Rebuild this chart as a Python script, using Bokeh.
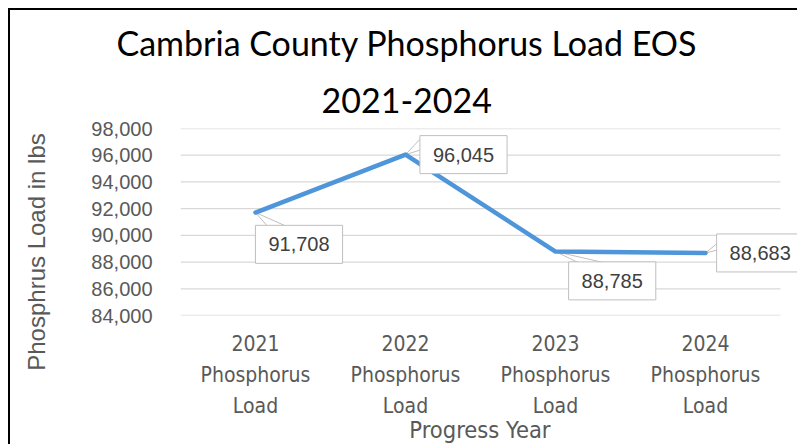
import math
from bokeh.plotting import figure
from bokeh.models import FixedTicker, NumeralTickFormatter, Label, Range1d, Title
from bokeh.embed import file_html
from bokeh.resources import INLINE

# ---- data ----
categories = ["2021\nPhosphorus\nLoad", "2022\nPhosphorus\nLoad",
              "2023\nPhosphorus\nLoad", "2024\nPhosphorus\nLoad"]
phosphorus_load = [91708, 96045, 88785, 88683]
y_ticks = [84000, 86000, 88000, 90000, 92000, 94000, 96000, 98000]
title_lines = ["Cambria County Phosphorus Load EOS", "2021-2024"]
y_label = "Phosphrus Load in lbs"
x_label = "Progress Year"

# ---- layout / style ----
W, H = 789, 436
FRAME_L, FRAME_T, FRAME_B = 170, 118, 305
BAND_PX = 150          # width of one category band
LINE_COLOR = "#4E95D9"
GRID_COLOR = "#D9D9D9"
AXIS_TEXT = "#595959"
LABEL_TEXT = "#404040"
BOX_LINE = "#BFBFBF"
NARROW = "DejaVu Sans Condensed"
NBSP = "\u00a0"

x_pos = list(range(len(categories)))
x_start = -0.5
x_band_end = len(categories) - 0.5
x_end = x_start + (W - FRAME_L) / BAND_PX

p = figure(width=W, height=H, output_backend="svg", toolbar_location=None,
           x_range=Range1d(x_start, x_end),
           y_range=Range1d(y_ticks[0], y_ticks[-1]),
           min_border_left=FRAME_L, min_border_right=0,
           min_border_top=FRAME_T, min_border_bottom=H - FRAME_B)
p.styles = {"margin-left": "8px", "margin-top": "8px",
            "border-left": "2px solid black", "border-top": "2px solid black"}
p.outline_line_color = None
p.background_fill_color = "white"
p.border_fill_color = "white"

# title: two lines, each centred on the whole chart area (offset from frame left)
title_offsets = [-64, 141]
title_standoffs = [15, 31]
p.title = None
for t, off, so in reversed(list(zip(title_lines, title_offsets, title_standoffs))):
    p.add_layout(Title(text=t, align="left", offset=off,
                       text_font="Lato", text_font_size="34px", text_color="black",
                       text_font_style="normal", standoff=so), "above")

# axes
p.yaxis.ticker = FixedTicker(ticks=y_ticks)
p.yaxis.formatter = NumeralTickFormatter(format="0,0")
p.xaxis.ticker = FixedTicker(ticks=x_pos)
p.xaxis.major_label_overrides = {i: c for i, c in zip(x_pos, categories)}
for ax in (p.xaxis[0], p.yaxis[0]):
    ax.axis_line_color = None
    ax.major_tick_line_color = None
    ax.minor_tick_line_color = None
    ax.major_label_text_color = AXIS_TEXT
    ax.axis_label_text_color = AXIS_TEXT
    ax.axis_label_text_font_style = "normal"

p.yaxis.major_label_text_font = "Liberation Sans"
p.yaxis.major_label_text_font_size = "20px"
p.yaxis.major_label_standoff = 22
p.yaxis.axis_label = y_label + NBSP * 9
p.yaxis.axis_label_text_font = "Liberation Sans"
p.yaxis.axis_label_text_font_size = "24px"
p.yaxis.axis_label_standoff = 38

p.xaxis.major_label_text_font = NARROW
p.xaxis.major_label_text_font_size = "21px"
p.xaxis.major_label_text_line_height = 1.3
p.xaxis.major_label_standoff = 10
p.xaxis.axis_label = x_label + NBSP * 3
p.xaxis.axis_label_text_font = NARROW
p.xaxis.axis_label_text_font_size = "23.5px"
p.xaxis.axis_label_standoff = -5

# horizontal gridlines across the category bands only
p.xgrid.grid_line_color = None
p.ygrid.grid_line_color = None
p.segment(x0=[x_start] * len(y_ticks), y0=y_ticks,
          x1=[x_band_end] * len(y_ticks), y1=y_ticks,
          line_color=GRID_COLOR, line_width=1.3)

# callout pointers (offsets in screen px converted to data units)
dx_per_px = 1.0 / BAND_PX
dy_per_px = (y_ticks[-1] - y_ticks[0]) / (FRAME_B - FRAME_T)
pointer_px = [((14, 16), (36, 16)), ((16, -17), (16, -5)),
              ((27, 13), (57, 13)), ((16, -13), (16, -4))]
pxs, pys = [], []
for xi, v, (a, b) in zip(x_pos, phosphorus_load, pointer_px):
    pxs.append([xi, xi + a[0] * dx_per_px, xi + b[0] * dx_per_px])
    pys.append([v, v - a[1] * dy_per_px, v - b[1] * dy_per_px])
p.patches(pxs, pys, fill_color="white", line_color=BOX_LINE, line_width=1)

# the series line
p.line(x_pos, phosphorus_load, line_width=4.5, color=LINE_COLOR,
       line_join="round", line_cap="round")

# data labels (boxes)
label_offsets = [(43.5, -31.8), (58, 0), (56.7, -29.3), (54.7, 0)]
for xi, v, (xo, yo) in zip(x_pos, phosphorus_load, label_offsets):
    p.add_layout(Label(x=xi, y=v, x_offset=xo, y_offset=yo, text=f"{v:,}",
                       text_align="center", text_baseline="middle",
                       text_font="Liberation Sans", text_font_size="20px",
                       text_color=LABEL_TEXT, background_fill_color="white",
                       border_line_color=BOX_LINE, border_line_width=1,
                       padding=dict(left=13, right=13, top=12, bottom=12)))

open("out.html", "w").write(file_html(p, INLINE))
